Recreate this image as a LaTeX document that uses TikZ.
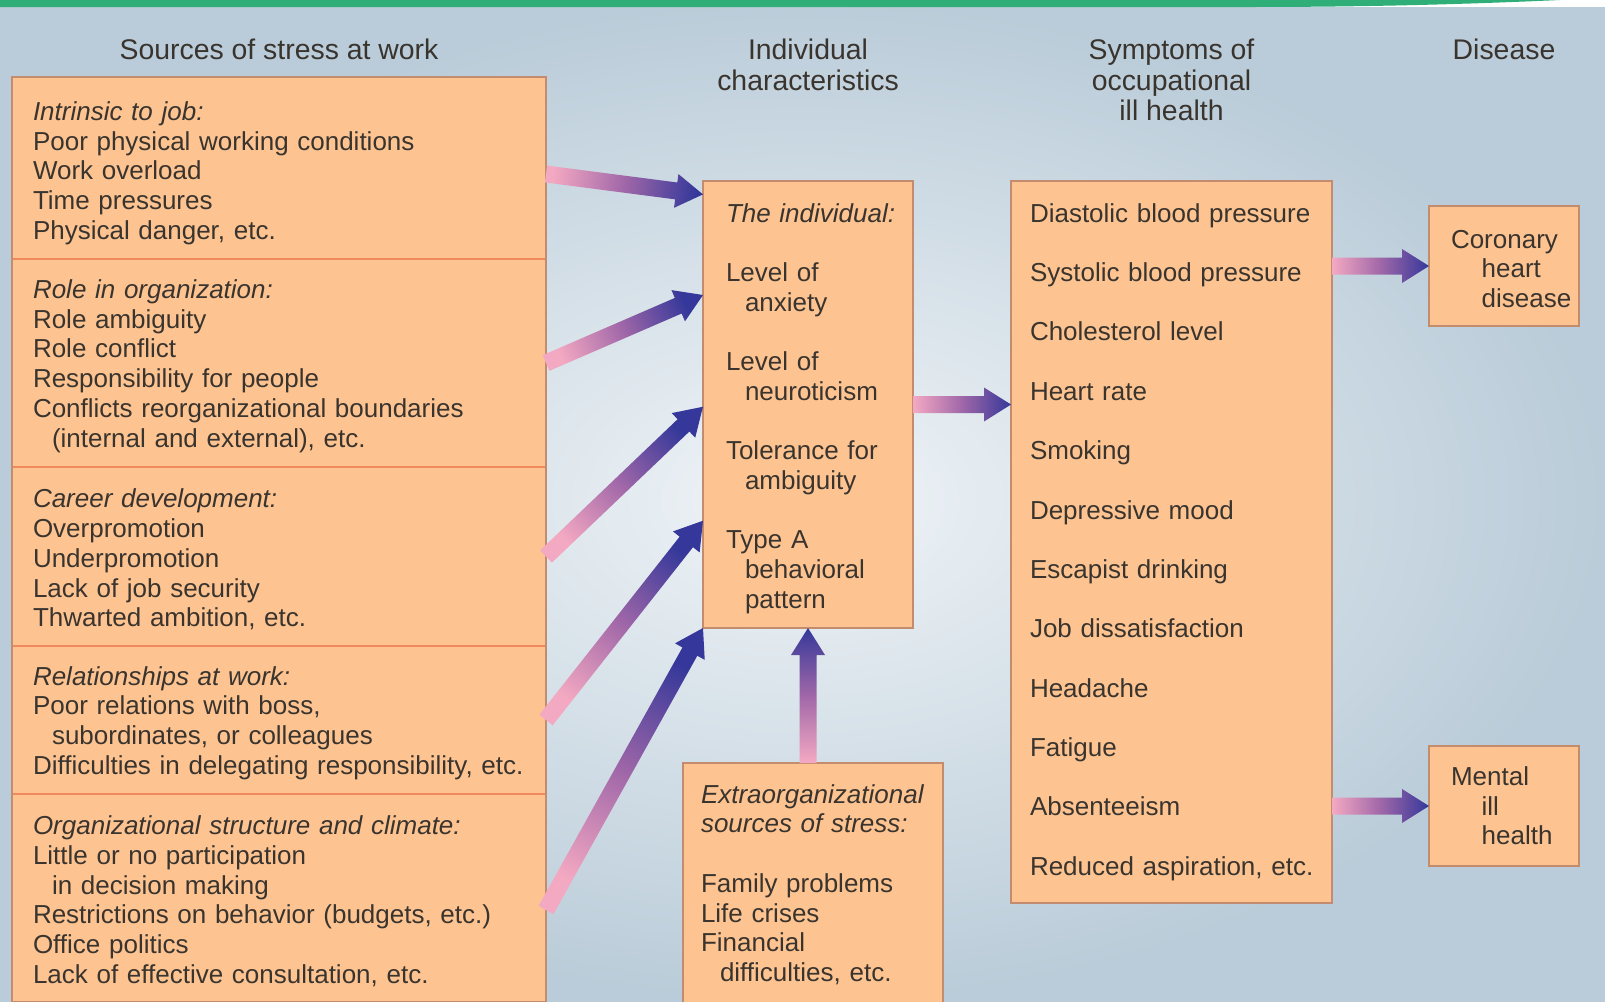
\documentclass[tikz,border=0pt]{standalone}
\usepackage{fontspec}
\setmainfont{Liberation Sans}
\usepackage{tikz}
\usetikzlibrary{positioning, calc}
\definecolor{bgouter}{HTML}{BACCD9}
\definecolor{bginner}{HTML}{F0F4F7}
\definecolor{boxfill}{HTML}{FDC492}
\definecolor{boxline}{HTML}{C48C6E}
\definecolor{divline}{HTML}{F08A5E}
\definecolor{txt}{HTML}{3A342E}
\definecolor{arrpink}{HTML}{F4A9C2}
\definecolor{arrmid}{HTML}{A067A8}
\definecolor{arrblue}{HTML}{35389A}
\definecolor{topgreen}{HTML}{2FAE78}
\hyphenpenalty=10000
\exhyphenpenalty=10000
\newcommand{\bodyfont}{\fontsize{26bp}{29.68bp}\selectfont}
\newcommand{\headfont}{\fontsize{28.4bp}{30.6bp}\selectfont}
\newcommand{\ind}[1][19bp]{\hspace*{#1}}
\newcommand{\stressarrow}[2]{%
  \coordinate (arrS) at (#1);
  \coordinate (arrE) at (#2);
  \coordinate (arrN) at ($(arrE)!27bp!(arrS)$);
  \path let \p1=($(arrE)-(arrS)$), \n1={atan2(\y1,\x1)+90} in \pgfextra{\xdef\arrangle{\n1}};
  \shade[left color=arrpink, right color=arrblue, middle color=arrmid, shading angle=\arrangle]
    ($(arrS)!8.5bp!90:(arrE)$) -- ($(arrN)!8.5bp!90:(arrE)$) -- ($(arrN)!17bp!90:(arrE)$) -- (arrE)
    -- ($(arrN)!17bp!-90:(arrE)$) -- ($(arrN)!8.5bp!-90:(arrE)$) -- ($(arrS)!8.5bp!-90:(arrE)$) -- cycle;
}
\tikzset{
  box/.style={rectangle, fill=boxfill, draw=boxline, line width=2bp, outer sep=0pt, align=left, text=txt, font=\bodyfont},
  srcpart/.style={rectangle, fill=boxfill, outer sep=0pt, inner xsep=21bp, text width=492bp, text height=25bp, minimum height=#1, align=left, text=txt, font=\bodyfont},
  head/.style={anchor=north, inner sep=0pt, align=center, text=txt, font=\headfont},
  frame/.style={draw=boxline, line width=2bp},
  divider/.style={draw=divline, line width=2bp}
}
\begin{document}
\begin{tikzpicture}[x=1bp, y=-1bp]
  \useasboundingbox (0,0) rectangle (1605,1001);
  \clip (0,0) rectangle (1605,1001);
  \shade[inner color=bginner, outer color=bgouter] (0,0) rectangle (1605,1001);
  \fill[white] (0,0) rectangle (1605,7);
  \fill[topgreen] (0,0) -- (1560,0) .. controls (1450,5) and (1350,7) .. (1250,7) -- (0,7) -- cycle;

  \node[srcpart=182bp, text height=29bp, anchor=north west] (src1) at (12,77) {\textit{Intrinsic to job:}\\
    Poor physical working conditions\\ Work overload\\ Time pressures\\ Physical danger, etc.};
  \node[srcpart=208bp, below=0pt of src1] (src2) {\textit{Role in organization:}\\
    Role ambiguity\\ Role conflict\\ Responsibility for people\\ Conflicts reorganizational boundaries\\
    \ind(internal and external), etc.};
  \node[srcpart=179bp, below=0pt of src2] (src3) {\textit{Career development:}\\
    Overpromotion\\ Underpromotion\\ Lack of job security\\ Thwarted ambition, etc.};
  \node[srcpart=148bp, below=0pt of src3] (src4) {\textit{Relationships at work:}\\
    Poor relations with boss,\\ \ind subordinates, or colleagues\\ Difficulties in delegating responsibility,~etc.};
  \node[srcpart=208bp, below=0pt of src4] (src5) {\textit{Organizational structure and climate:}\\
    Little or no participation\\ \ind in decision making\\ Restrictions on behavior (budgets,~etc.)\\
    Office politics\\ Lack of effective consultation, etc.};
  \foreach \n in {1,...,4}
    \draw[divider] (src\n.south west) -- (src\n.south east);
  \draw[frame] (src1.north west) rectangle (src5.south east);

  \node[box, anchor=north west, minimum width=210bp, minimum height=447bp, text width=164bp, text height=27bp, inner xsep=23bp] (indiv) at (703,181)
    {\textit{The~individual:}\\[29.68bp]
     Level of\\ \ind anxiety\\[29.68bp]
     Level of\\ \ind neuroticism\\[29.68bp]
     Tolerance~for\\ \ind ambiguity\\[29.68bp]
     Type A\\ \ind behavioral\\ \ind pattern};
  \node[box, anchor=north west, minimum width=260bp, minimum height=240bp, text width=224bp, text height=22bp, inner xsep=18bp] (extra) at (683,763)
    {\textit{Extraorganizational}\\ \textit{sources of stress:}\\[29.68bp]
     Family problems\\ Life crises\\ Financial\\ \ind difficulties, etc.};
  \node[box, anchor=north west, minimum width=321bp, minimum height=722bp, text width=283bp, inner xsep=19bp,
    font=\fontsize{26bp}{59.37bp}\selectfont] (symp) at (1011,181)
    {Diastolic~blood~pressure\\ Systolic~blood~pressure\\ Cholesterol level\\ Heart rate\\ Smoking\\
     Depressive mood\\ Escapist drinking\\ Job dissatisfaction\\ Headache\\ Fatigue\\ Absenteeism\\
     Reduced~aspiration,~etc.};
  \node[box, anchor=north west, minimum width=150bp, minimum height=120bp, text width=106bp, text height=24bp, inner xsep=22bp] (cor) at (1429,206)
    {Coronary\\ \ind[22bp] heart\\ \ind[22bp] disease};
  \node[box, anchor=north west, minimum width=150bp, minimum height=120bp, text width=106bp, inner xsep=22bp] (ment) at (1429,746)
    {Mental\\ \ind[22bp] ill\\ \ind[22bp] health};

  \coordinate (hd) at (0,39);
  \node[head] (hsrc) at (src1.north |- hd) {Sources of stress at work};
  \node[head] (hind) at (indiv.north |- hd) {Individual\\characteristics};
  \node[head] (hsym) at (symp.north |- hd) {Symptoms of\\occupational\\ill health};
  \node[head] (hdis) at (cor.north |- hd) {Disease};

  \foreach \s/\d/\f in {src1/6/0.03, src2/0/0.255, src3/0/0.505, src4/0/0.76, src5/12/1}
    \stressarrow{$(\s.east)+(0,\d)$}{$(indiv.north west)!\f!(indiv.south west)$};
  \stressarrow{extra.north -| indiv.south}{indiv.south}
  \stressarrow{indiv.east}{symp.west |- indiv.east}
  \stressarrow{symp.east |- cor.west}{cor.west}
  \stressarrow{symp.east |- ment.west}{ment.west}
\end{tikzpicture}
\end{document}
